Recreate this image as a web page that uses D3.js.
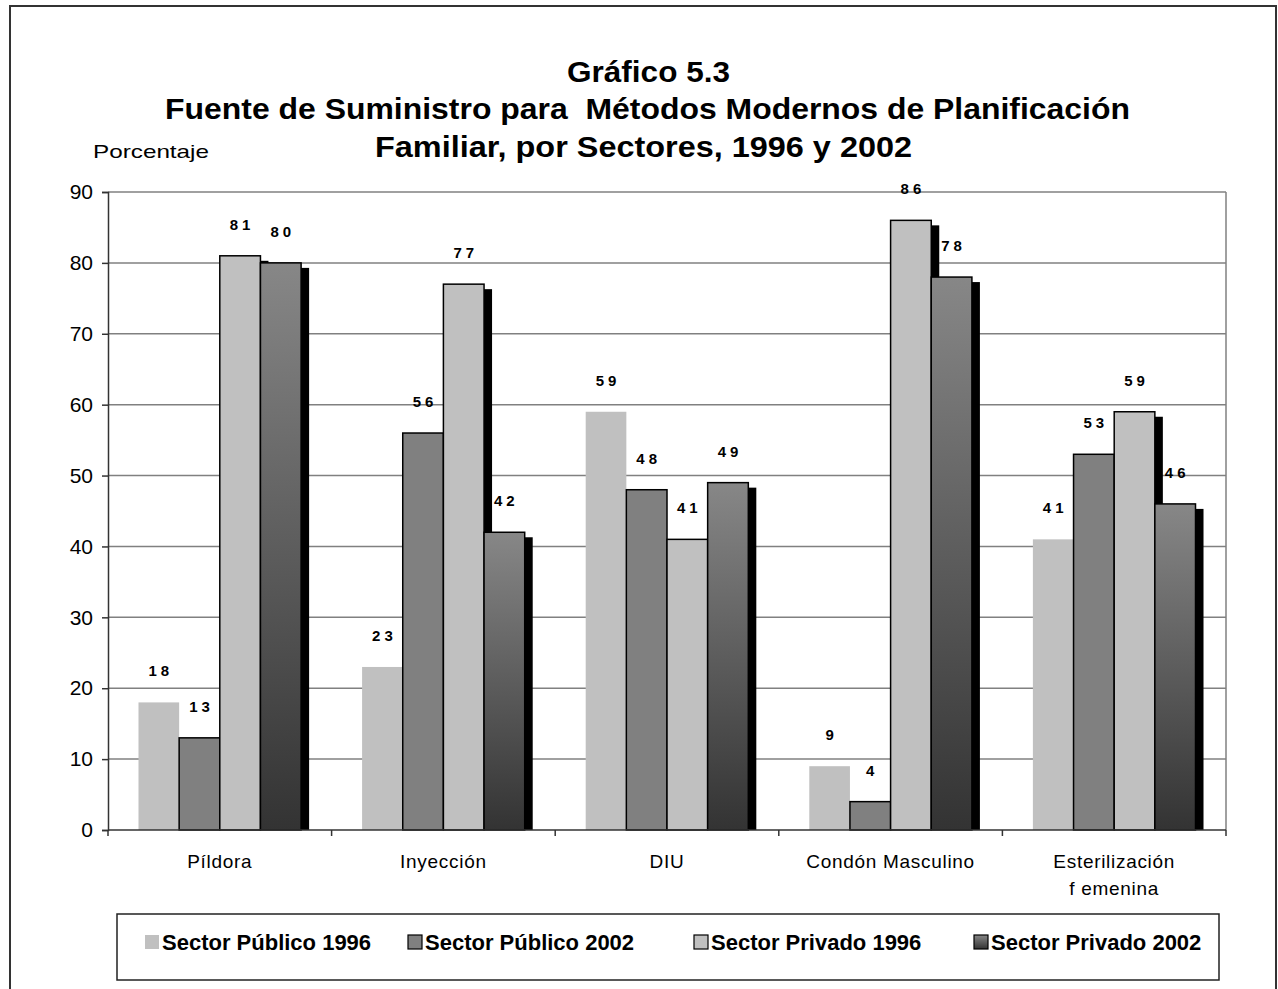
<!DOCTYPE html>
<html><head><meta charset="utf-8">
<script src="https://cdn.jsdelivr.net/npm/d3@7"></script>
<style>
body{margin:0;background:#fff;}
svg text{font-family:"Liberation Sans",Arial,sans-serif;}
</style></head>
<body><svg id="c" width="1278" height="989"></svg>
<script>
const categories = ["Píldora","Inyección","DIU","Condón Masculino","Esterilización\nf emenina"];
const seriesNames = ["Sector Público 1996","Sector Público 2002","Sector Privado 1996","Sector Privado 2002"];
const publico1996 = [18,23,59,9,41];
const publico2002 = [13,56,48,4,53];
const privado1996 = [81,77,41,86,59];
const privado2002 = [80,42,49,78,46];
const yTicks = [0,10,20,30,40,50,60,70,80,90];
const titleLines = ["Gráfico 5.3","Fuente de Suministro para  Métodos Modernos de Planificación","Familiar, por Sectores, 1996 y 2002"];
const yLabel = "Porcentaje";

const seriesVals = [publico1996,publico2002,privado1996,privado2002];
const styles = [
  {fill:"#c0c0c0", stroke:"none", shadow:false},
  {fill:"#808080", stroke:"#000", shadow:false},
  {fill:"#c0c0c0", stroke:"#000", shadow:true},
  {fill:"url(#grad)", stroke:"#000", shadow:true}
];

const svg = d3.select("#c");
const defs = svg.append("defs");
const g = defs.append("linearGradient").attr("id","grad").attr("x1",0).attr("y1",0).attr("x2",0).attr("y2",1);
g.append("stop").attr("offset","0%").attr("stop-color","#878787");
g.append("stop").attr("offset","100%").attr("stop-color","#333333");

svg.append("rect").attr("width",1278).attr("height",989).attr("fill","#fff");
svg.append("rect").attr("x",10).attr("y",6).attr("width",1266).attr("height",1000)
  .attr("fill","none").attr("stroke","#333").attr("stroke-width",2);

const L=108, R=1226, T=192, B=830;
const y = d3.scaleLinear().domain([0,90]).range([B,T]);
const x0 = d3.scaleBand().domain(categories).range([L,R]).padding(0);
const cw = x0.bandwidth();
const gap = cw*0.75/5.5;
const x1 = d3.scaleBand().domain(d3.range(4)).range([gap, cw-gap]).padding(0);

svg.append("g").selectAll("line").data(yTicks.filter(d=>d>0)).join("line")
  .attr("x1",L).attr("x2",R).attr("y1",d=>y(d)).attr("y2",d=>y(d))
  .attr("stroke","#808080").attr("stroke-width",1.5);
svg.append("line").attr("x1",R).attr("x2",R).attr("y1",T).attr("y2",B).attr("stroke","#808080").attr("stroke-width",1.5);

const data = [];
categories.forEach((c,i)=>seriesVals.forEach((s,j)=>data.push({c,j,v:s[i]})));
const bw = x1.bandwidth();
seriesVals.forEach((s,j)=>{
  const d = data.filter(e=>e.j===j);
  if(styles[j].shadow){
    svg.append("g").selectAll("rect").data(d).join("rect")
      .attr("x",e=>x0(e.c)+x1(j)+8).attr("y",e=>y(e.v)+5)
      .attr("width",bw).attr("height",e=>B-y(e.v)-5).attr("fill","#000");
  }
  svg.append("g").selectAll("rect").data(d).join("rect")
    .attr("x",e=>x0(e.c)+x1(j)).attr("y",e=>y(e.v))
    .attr("width",bw).attr("height",e=>B-y(e.v))
    .attr("fill",styles[j].fill).attr("stroke",styles[j].stroke).attr("stroke-width",1.5);
});

svg.append("g").selectAll("text").data(data).join("text")
  .attr("x",e=>x0(e.c)+x1(e.j)+bw/2+2).attr("y",e=>y(e.v)-26)
  .attr("text-anchor","middle").attr("font-size",15).attr("font-weight","bold")
  .attr("letter-spacing",4).text(e=>e.v);

const yAxis = d3.axisLeft(y).tickValues(yTicks).tickSize(6).tickPadding(9);
const ya = svg.append("g").attr("transform",`translate(${L},0)`).call(yAxis);
ya.select(".domain").attr("stroke","#333").attr("stroke-width",1.5);
ya.selectAll(".tick line").attr("stroke","#333").attr("stroke-width",1.5);
ya.selectAll(".tick text").attr("font-size",21).attr("fill","#000").attr("font-family","Liberation Sans, Arial, sans-serif");

svg.append("line").attr("x1",L).attr("x2",R).attr("y1",B).attr("y2",B).attr("stroke","#333").attr("stroke-width",1.5);
const bounds = categories.map(c=>x0(c)).concat([R]);
svg.append("g").selectAll("line").data(bounds).join("line")
  .attr("x1",d=>d).attr("x2",d=>d).attr("y1",B).attr("y2",B+6).attr("stroke","#333").attr("stroke-width",1.5);

const xl = svg.append("g").selectAll("text").data(categories).join("text")
  .attr("x",c=>x0(c)+cw/2).attr("y",868).attr("text-anchor","middle").attr("font-size",19).attr("letter-spacing",0.7);
xl.each(function(c){
  const parts=c.split("\n");
  d3.select(this).selectAll("tspan").data(parts).join("tspan")
    .attr("x",x0(c)+cw/2).attr("dy",(p,i)=>i?27:0).text(p=>p);
});

const tW=[163,965,537], tX=[567,165,375], tY=[82,119,157];
svg.append("g").selectAll("text").data(titleLines).join("text")
  .attr("x",(d,i)=>tX[i]).attr("y",(d,i)=>tY[i])
  .attr("font-size",29).attr("font-weight","bold")
  .attr("textLength",(d,i)=>tW[i]).attr("lengthAdjust","spacingAndGlyphs")
  .attr("xml:space","preserve").style("white-space","pre").text(d=>d);

svg.append("text").attr("x",93).attr("y",158).attr("font-size",19)
  .attr("textLength",116).attr("lengthAdjust","spacingAndGlyphs").text(yLabel);

svg.append("rect").attr("x",117).attr("y",914).attr("width",1102).attr("height",66)
  .attr("fill","#fff").attr("stroke","#222").attr("stroke-width",1.5);
const lx=[145,408,694,974];
const lg = svg.append("g").selectAll("g").data(seriesNames).join("g")
  .attr("transform",(d,i)=>`translate(${lx[i]},935)`);
lg.append("rect").attr("width",14).attr("height",14)
  .attr("fill",(d,i)=>styles[i].fill).attr("stroke",(d,i)=>styles[i].stroke).attr("stroke-width",1.2);
lg.append("text").attr("x",17).attr("y",15).attr("font-size",22).attr("font-weight","bold").text(d=>d);
</script></body></html>
